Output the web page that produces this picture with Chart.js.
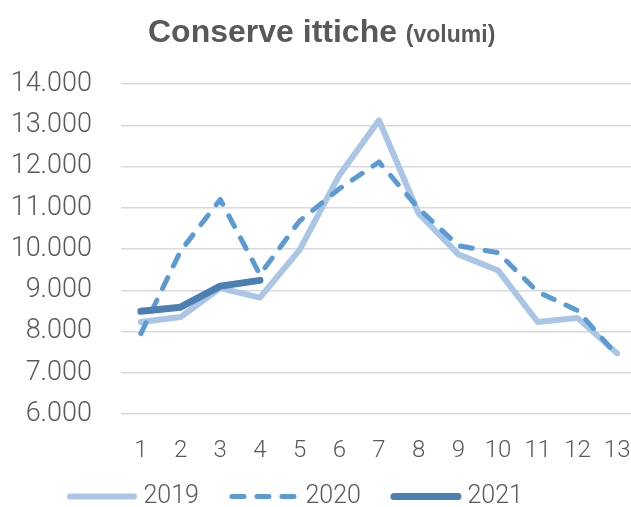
<!DOCTYPE html>
<html>
<head>
<meta charset="utf-8">
<script src="https://cdn.jsdelivr.net/npm/chart.js@4/dist/chart.umd.min.js"></script>
<style>
  html, body { margin: 0; padding: 0; background: #fff; overflow: hidden; width: 631px; height: 507px; }
  #wrap { position: relative; width: 637px; height: 507px; }
  #title { position: absolute; left: 148px; top: 13px; white-space: nowrap;
           font-family: "Liberation Sans", Arial, sans-serif; font-weight: bold; color: #595959;
           font-size: 32px; line-height: 36px; }
  #title span { font-size: 23px; }
</style>
</head>
<body>
<div id="wrap">
  <canvas id="c" width="637" height="507"></canvas>
  <div id="title">Conserve ittiche <span>(volumi)</span></div>
</div>
<script>
const categories = ['1','2','3','4','5','6','7','8','9','10','11','12','13'];
const seriesNames = ['2019', '2020', '2021'];
const values2019 = [8230, 8350, 9050, 8820, 9980, 11790, 13120, 10860, 9870, 9480, 8230, 8330, 7470];
const values2020 = [7950, 9950, 11200, 9380, 10680, 11460, 12110, 10980, 10080, 9910, 8960, 8510, 7420];
const values2021 = [8490, 8590, 9100, 9240, null, null, null, null, null, null, null, null, null];
const yTickValues = [6000, 7000, 8000, 9000, 10000, 11000, 12000, 13000, 14000];
const yTickLabels = ['6.000', '7.000', '8.000', '9.000', '10.000', '11.000', '12.000', '13.000', '14.000'];

const grey = '#595959';
const LEGEND_BOX = 64;

const legendPlugin = {
  id: 'legendShift',
  afterLayout(chart) {
    const lg = chart.legend;
    if (lg) { lg.left = 37; lg.top = 454; }
  },
  afterDraw(chart) {
    const lg = chart.legend;
    if (!lg || !lg.legendHitBoxes) return;
    const ctx = chart.ctx;
    lg.legendItems.forEach((item, i) => {
      const hb = lg.legendHitBoxes[i];
      const ds = chart.data.datasets[item.datasetIndex];
      const y = hb.top + hb.height / 2;
      ctx.save();
      ctx.strokeStyle = ds.borderColor;
      ctx.lineWidth = ds.borderWidth;
      ctx.lineCap = 'round';
      ctx.setLineDash(ds.borderDash || []);
      ctx.beginPath();
      ctx.moveTo(hb.left + 3, y);
      ctx.lineTo(hb.left + 3 + LEGEND_BOX, y);
      ctx.stroke();
      ctx.restore();
    });
  }
};

new Chart(document.getElementById('c'), {
  type: 'line',
  data: {
    labels: categories,
    datasets: [
      { label: seriesNames[0], data: values2019, borderColor: '#abc5e6', backgroundColor: '#abc5e6',
        borderWidth: 6, pointRadius: 0, tension: 0, order: 3, borderCapStyle: 'round', borderJoinStyle: 'round' },
      { label: seriesNames[1], data: values2020, borderColor: '#5b9bd5', backgroundColor: '#5b9bd5',
        borderWidth: 5, borderDash: [12, 13], pointRadius: 0, tension: 0, order: 2, borderCapStyle: 'round', borderJoinStyle: 'round' },
      { label: seriesNames[2], data: values2021, borderColor: '#4c7fb2', backgroundColor: '#4c7fb2',
        borderWidth: 7, pointRadius: 0, tension: 0, order: 1, borderCapStyle: 'round', borderJoinStyle: 'round' }
    ]
  },
  plugins: [legendPlugin],
  options: {
    responsive: false,
    animation: false,
    events: [],
    layout: { padding: { top: 84, left: 0, right: 0, bottom: 0 } },
    scales: {
      x: {
        offset: true,
        grid: { display: false, drawTicks: true, tickLength: 23 },
        border: { display: false },
        ticks: { font: { family: 'Roboto', size: 24, weight: '300' }, color: grey, padding: 0, maxRotation: 0, autoSkip: false },
        afterFit: (s) => { s.height = 50; }
      },
      y: {
        min: 6000, max: 14000,
        grid: { color: '#d9d9d9', lineWidth: 1.5, drawTicks: false },
        border: { display: false },
        ticks: {
          font: { family: 'Roboto', size: 27, weight: '300' }, color: grey, padding: 29, stepSize: 1000,
          callback: (v) => { const i = yTickValues.indexOf(v); return i >= 0 ? yTickLabels[i] : ''; }
        },
        afterBuildTicks: (s) => { s.ticks = yTickValues.map(v => ({ value: v })); },
        afterFit: (s) => { s.width = 121; }
      }
    },
    plugins: {
      title: { display: false },
      tooltip: { enabled: false },
      legend: {
        position: 'bottom',
        align: 'start',
        maxHeight: 43,
        labels: {
          usePointStyle: true,
          pointStyle: 'line',
          pointStyleWidth: LEGEND_BOX,
          font: { family: 'Roboto', size: 25, weight: '300' },
          color: grey,
          padding: 30,
          sort: (a, b) => a.datasetIndex - b.datasetIndex,
          generateLabels: (chart) => {
            const items = Chart.defaults.plugins.legend.labels.generateLabels(chart);
            items.forEach(it => { it.lineWidth = 0; it.strokeStyle = 'rgba(0,0,0,0)'; it.fillStyle = 'rgba(0,0,0,0)'; });
            return items;
          }
        }
      }
    }
  }
});
</script>
</body>
</html>
